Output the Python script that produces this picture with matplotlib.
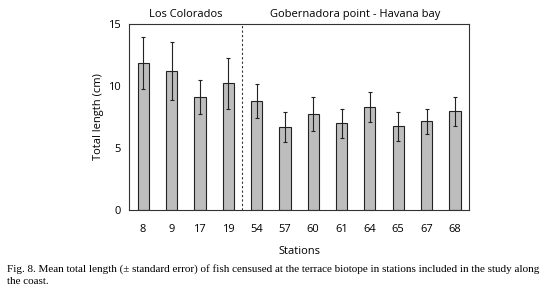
import matplotlib.pyplot as plt
import numpy as np

stations = ["8", "9", "17", "19", "54", "57", "60", "61", "64", "65", "67", "68"]
mean_length = [11.88, 11.2, 9.08, 10.23, 8.78, 6.71, 7.73, 6.98, 8.29, 6.76, 7.14, 7.97]
std_error = [2.1, 2.35, 1.37, 2.05, 1.37, 1.2, 1.38, 1.2, 1.23, 1.17, 1.02, 1.18]
groups = ["Los Colorados", "Gobernadora point - Havana bay"]
n_first = 4

plt.rcParams["font.family"] = ["Open Sans", "DejaVu Sans"]

fig = plt.figure(figsize=(5.57, 3.06), dpi=100)
ax = fig.add_axes([129 / 557, 1 - 210 / 306, 340 / 557, 186 / 306])

x = np.arange(len(stations))
ax.bar(x, mean_length, width=0.4, color="#bdbdbd", edgecolor="#222222", linewidth=0.8)
ax.errorbar(x, mean_length, yerr=std_error, fmt="none", ecolor="#222222",
            elinewidth=0.8, capsize=1.5, capthick=0.8)

ax.set_xlim(-0.5, len(stations) - 0.5)
ax.set_ylim(0, 15)
ax.set_yticks([0, 5, 10, 15])
ax.set_xticks(x)
ax.set_xticklabels(stations)
ax.tick_params(axis="both", length=0, labelsize=8)
ax.tick_params(axis="x", pad=10)
ax.tick_params(axis="y", pad=6)
for s in ax.spines.values():
    s.set_linewidth(0.8)
    s.set_color("#333333")

sep = n_first - 0.5
ax.axvline(sep, color="#333333", linestyle=(0, (2, 2)), linewidth=0.8)
ax.text((-0.5 + sep) / 2, 15.3, groups[0], ha="center", va="bottom", fontsize=8)
ax.text((sep + len(stations) - 0.5) / 2, 15.3, groups[1], ha="center",
        va="bottom", fontsize=8)

ax.set_ylabel("Total length (cm)", fontsize=8, labelpad=3)
ax.set_xlabel("Stations", fontsize=8, labelpad=8)

fig.text(7 / 557, 1 - 269 / 306,
         "Fig. 8. Mean total length (\u00b1 standard error) of fish censused at the "
         "terrace biotope in stations included in the study along",
         family=["Liberation Serif", "DejaVu Serif"], fontsize=8, va="center")
fig.text(7 / 557, 1 - 281 / 306, "the coast.",
         family=["Liberation Serif", "DejaVu Serif"], fontsize=8, va="center")

fig.savefig("out.png", dpi=100)
